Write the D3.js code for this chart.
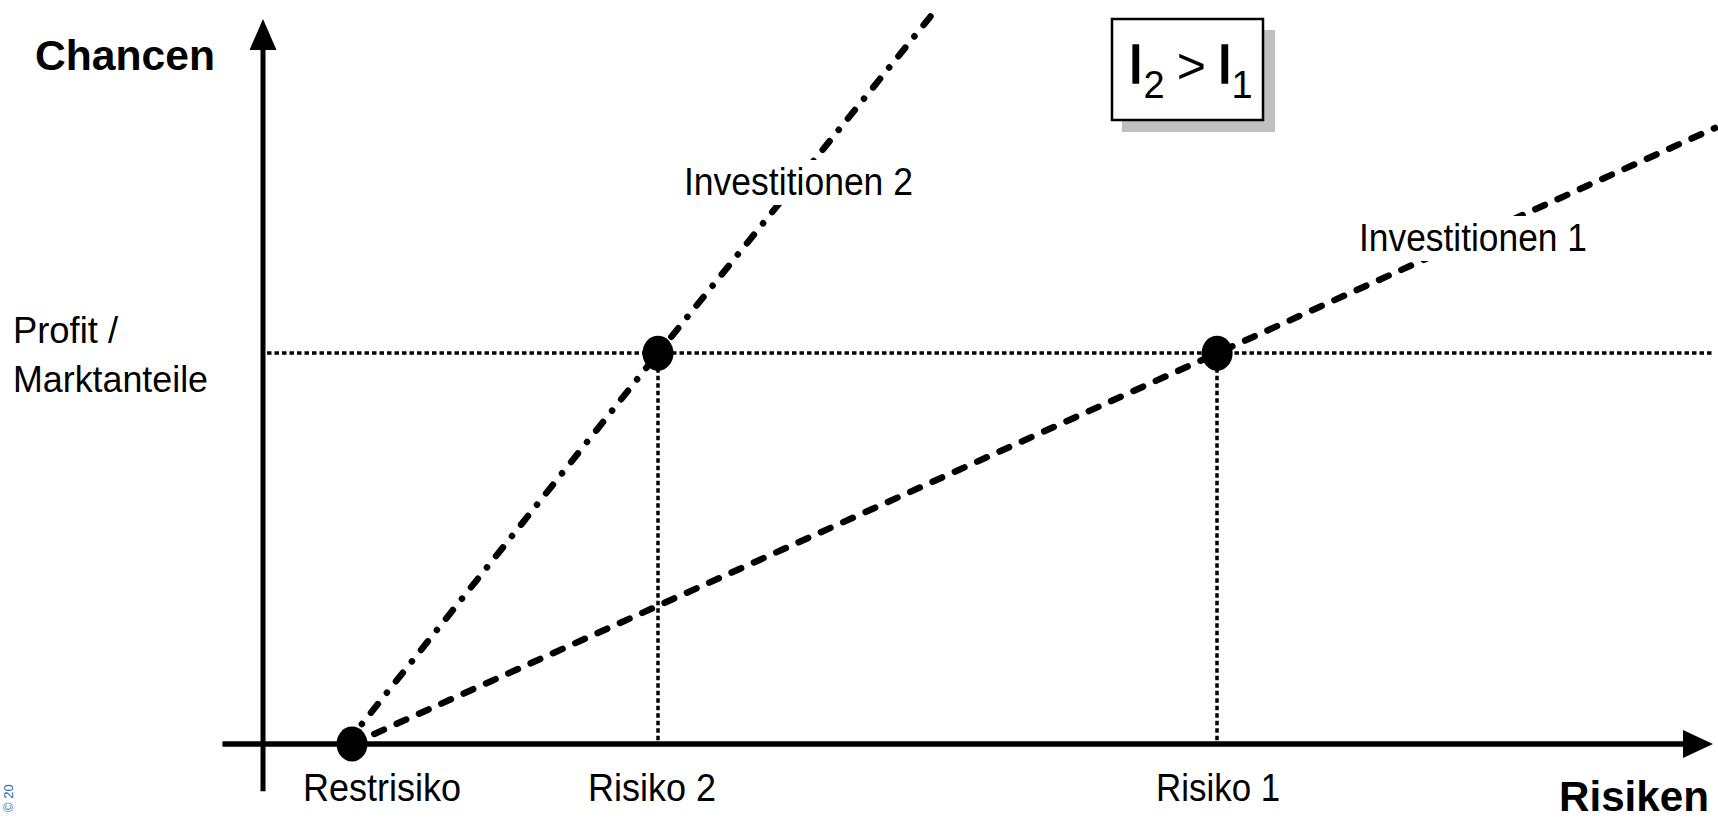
<!DOCTYPE html>
<html>
<head>
<meta charset="utf-8">
<script src="https://cdn.jsdelivr.net/npm/d3@7"></script>
<style>
  html, body { margin: 0; padding: 0; background: #fff; }
  svg { display: block; }
  text { font-family: "Liberation Sans", Arial, sans-serif; }
</style>
</head>
<body>
<svg id="chart" width="1718" height="819"></svg>
<script>
// ---- data (conceptual units: risk 0..100, chances 0..100) ----
const riskLabels = ["Restrisiko", "Risiko 2", "Risiko 1"];
const riskValues = [6.14, 27.24, 65.8];
const profitValue = 53.9;
const profitLabel = ["Profit /", "Marktanteile"];
const inv1Points = [[6.14, 0], [65.8, 53.9], [100.14, 84.97]];
const inv2Points = [[5.72, 0], [27.24, 53.9], [46.34, 101.1]];
const seriesNames = ["Investitionen 1", "Investitionen 2"];
const axisTitles = ["Chancen", "Risiken"];
const keyTitle = ["I", "2", ">", "I", "1"];

// ---- layout ----
const svg = d3.select("#chart");
const x = d3.scaleLinear().domain([0, 100]).range([263, 1713]);
const y = d3.scaleLinear().domain([0, 100]).range([744, 19]);

// small blue rotated fragment at the left edge
svg.append("text")
  .attr("transform", "translate(13,812) rotate(-90)")
  .attr("font-size", 13).attr("fill", "#1f6db3")
  .text("© 20");

// guide lines (dotted)
function dotted(sel) {
  return sel.attr("stroke", "#000").attr("stroke-width", 3.5)
    .attr("stroke-dasharray", "4.5,3");
}
dotted(svg.append("line")
  .attr("x1", x(0) + 4).attr("x2", x(100))
  .attr("y1", Math.round(y(profitValue))).attr("y2", Math.round(y(profitValue))));
[riskValues[1], riskValues[2]].forEach(rv => {
  dotted(svg.append("line")
    .attr("x1", Math.round(x(rv))).attr("x2", Math.round(x(rv)))
    .attr("y1", y(profitValue)).attr("y2", y(0)));
});

// axes
svg.append("line").attr("x1", x(0)).attr("x2", x(0))
  .attr("y1", y(-6.5)).attr("y2", y(96))
  .attr("stroke", "#000").attr("stroke-width", 5);
svg.append("path")
  .attr("d", `M${x(0)},${y(100)} L${x(0) - 13.5},${y(100) + 31} L${x(0) + 13.5},${y(100) + 31} Z`)
  .attr("fill", "#000");
svg.append("line").attr("x1", x(-2.8)).attr("x2", x(98))
  .attr("y1", y(0)).attr("y2", y(0))
  .attr("stroke", "#000").attr("stroke-width", 5.5);
svg.append("path")
  .attr("d", `M${x(100)},${y(0)} L${x(100) - 30},${y(0) - 14} L${x(100) - 30},${y(0) + 14} Z`)
  .attr("fill", "#000");

// investment lines
const lineGen = d3.line().x(d => x(d[0])).y(d => y(d[1]));
svg.append("path").datum(inv1Points)
  .attr("d", lineGen).attr("fill", "none")
  .attr("stroke", "#000").attr("stroke-width", 6.5)
  .attr("stroke-linecap", "round")
  .attr("stroke-dasharray", "10.5,14");
svg.append("path").datum(inv2Points)
  .attr("d", lineGen).attr("fill", "none")
  .attr("stroke", "#000").attr("stroke-width", 6.5)
  .attr("stroke-linecap", "round")
  .attr("stroke-dasharray", "11,14.5,0.1,14.5");

// points
const pts = [[riskValues[0], 0], [riskValues[1], profitValue], [riskValues[2], profitValue]];
svg.selectAll("ellipse.pt").data(pts).enter().append("ellipse")
  .attr("class", "pt")
  .attr("cx", d => x(d[0])).attr("cy", d => y(d[1]))
  .attr("rx", 15.5).attr("ry", 17.5).attr("fill", "#000");

// series labels with white background
const seriesLabelPos = [[1359, 251, 228], [684, 195, 229]];
seriesNames.forEach((name, i) => {
  const [lx, ly, lw] = seriesLabelPos[i];
  const g = svg.append("g");
  const t = g.append("text").attr("x", lx).attr("y", ly)
    .attr("font-size", 39).attr("fill", "#000")
    .attr("textLength", lw).attr("lengthAdjust", "spacingAndGlyphs")
    .text(name);
  const bb = t.node().getBBox();
  g.insert("rect", "text")
    .attr("x", bb.x - 3).attr("y", bb.y)
    .attr("width", bb.width + 6).attr("height", bb.height + 2)
    .attr("fill", "#fff");
});

// x category labels
const riskLabelDx = [30, -6, 1];
const riskLabelW = [158, 128, 124];
riskLabels.forEach((lab, i) => {
  const cx = x(riskValues[i]) + riskLabelDx[i];
  svg.append("text")
    .attr("x", cx - riskLabelW[i] / 2).attr("y", 801)
    .attr("font-size", 38).attr("fill", "#000")
    .attr("textLength", riskLabelW[i]).attr("lengthAdjust", "spacingAndGlyphs")
    .text(lab);
});

// y category label
const profitW = [105, 195];
profitLabel.forEach((lab, i) => {
  svg.append("text")
    .attr("x", 13).attr("y", y(profitValue) - 10 + i * 49)
    .attr("font-size", 37).attr("fill", "#000")
    .attr("textLength", profitW[i]).attr("lengthAdjust", "spacingAndGlyphs")
    .text(lab);
});

// axis titles
svg.append("text").attr("x", 35).attr("y", 70)
  .attr("font-size", 42).attr("font-weight", "bold")
  .attr("textLength", 180).attr("lengthAdjust", "spacingAndGlyphs")
  .text(axisTitles[0]);
svg.append("text").attr("x", 1559).attr("y", 811)
  .attr("font-size", 42).attr("font-weight", "bold")
  .attr("textLength", 150).attr("lengthAdjust", "spacingAndGlyphs")
  .text(axisTitles[1]);

// key box I2 > I1
svg.append("rect").attr("x", 1122).attr("y", 30)
  .attr("width", 153).attr("height", 102).attr("fill", "#c0c0c0");
svg.append("rect").attr("x", 1112).attr("y", 19)
  .attr("width", 151).attr("height", 101)
  .attr("fill", "#fff").attr("stroke", "#000").attr("stroke-width", 2.5);
const kt = svg.append("text").attr("x", 1128).attr("y", 83).attr("fill", "#000");
const sizes = [56, 38, 50, 56, 38];
const dys = [0, 15, -15, 0, 15];
const dxs = [0, 0, 12, 11, -1];
const strokes = [1.6, 0, 0, 1.6, 0];
keyTitle.forEach((s, i) => {
  kt.append("tspan").attr("font-size", sizes[i]).attr("dy", dys[i]).attr("dx", dxs[i])
    .attr("stroke", strokes[i] ? "#000" : "none").attr("stroke-width", strokes[i])
    .text(s);
});
</script>
</body>
</html>
